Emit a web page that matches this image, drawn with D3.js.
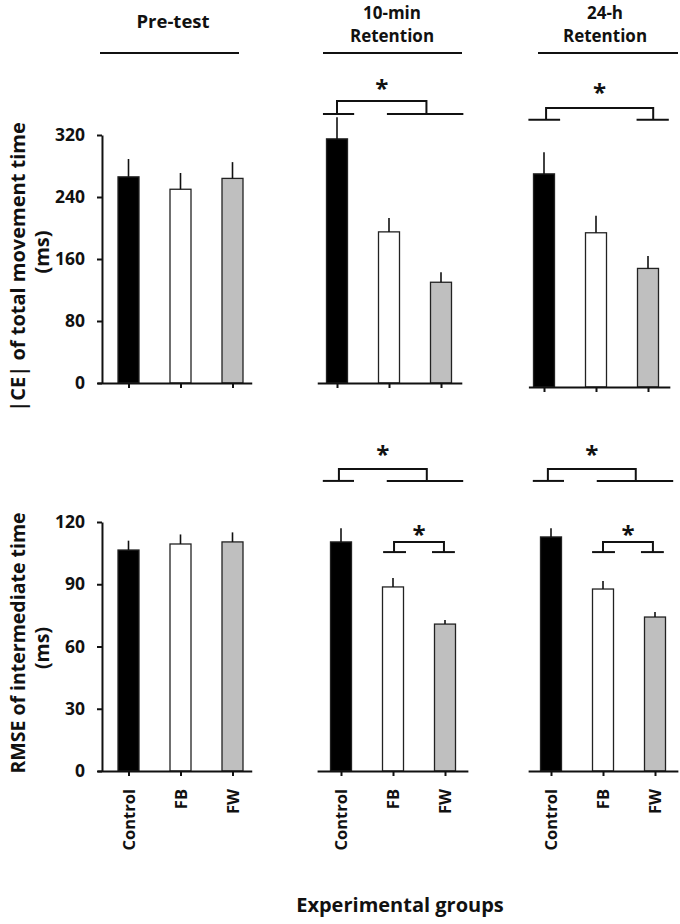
<!DOCTYPE html>
<html>
<head>
<script src="https://d3js.org/d3.v7.min.js"></script>
<style>
    body { margin: 0; background: #fff; }
    text { font-family: "Open Sans", Lato, sans-serif; font-weight: 700; fill: #111; }
    .axis path, .axis line { stroke: #111; stroke-width: 2px; }
</style>
</head>
<body>
<svg id="chart" width="680" height="924"></svg>
<script>
    // data
    const groups = ["Control", "FB", "FW"];
    const sessions = [["Pre-test"], ["10-min", "Retention"], ["24-h", "Retention"]];
    const ceMean = [[266, 250, 264], [315, 195, 130], [275, 199, 153]];
    const ceErr = [[23, 21, 21], [28, 18, 13], [28, 22, 16]];
    const rmseMean = [[106.5, 109.4, 110.4], [110.4, 88.7, 70.8], [112.8, 87.7, 74.2]];
    const rmseErr = [[4.5, 4.6, 4.6], [6.6, 4.3, 2.0], [4.2, 3.9, 2.4]];
    const ceTicks = [0, 80, 160, 240, 320];
    const rmseTicks = [0, 30, 60, 90, 120];

    const fills = ["#000", "#fff", "#bfbfbf"];
    const step = 52, barW = 21;
    const svg = d3.select("#chart");

    // layout for the two rows
    const rows = [
        { mean: ceMean, err: ceErr, ticks: ceTicks, max: 320, y0: 383, y1: 135, dy: [0, 0, 4],
          x0: [128.5, 337, 544], ext: [[-0.6, 2.37], [-0.38, 2.4], [-0.3, 2.42]],
          label: "|CE| of total movement time", labelSize: 20, labelY: 267, unitY: 252, xlabels: false },
        { mean: rmseMean, err: rmseErr, ticks: rmseTicks, max: 120, y0: 771, y1: 522, dy: [0, 0, 0],
          x0: [128.5, 341, 551], ext: [[-0.6, 2.37], [-0.46, 2.44], [-0.44, 2.44]],
          label: "RMSE of intermediate time", labelSize: 19.5, labelY: 643, unitY: 648, xlabels: true }
    ];

    // significance brackets (positions in group index / data units)
    const brackets = [
        { row: 0, p: 1, arms: [0, 1.72], lines: [[-0.27, 0.33], [0.96, 2.43]], base: 347, top: 364, star: 385 },
        { row: 0, p: 2, arms: [0.04, 2.1], lines: [[-0.3, 0.31], [1.78, 2.4]], base: 345, top: 360, star: 385 },
        { row: 1, p: 1, arms: [-0.04, 1.65], lines: [[-0.35, 0.25], [0.88, 2.35]], base: 139.8, top: 145.5, star: 154 },
        { row: 1, p: 2, arms: [-0.06, 1.63], lines: [[-0.35, 0.25], [0.88, 2.35]], base: 139.8, top: 145.5, star: 154 },
        { row: 1, p: 1, arms: [1.02, 1.98], lines: [[0.81, 1.25], [1.75, 2.19]], base: 105.5, top: 110.4, star: 115.7 },
        { row: 1, p: 2, arms: [1.0, 1.96], lines: [[0.79, 1.23], [1.73, 2.17]], base: 105.5, top: 110.4, star: 115.7 }
    ];

    const scales = {};

    rows.forEach((r, ri) => {
        [0, 1, 2].forEach(p => {
            const x = d3.scaleLinear().domain(r.ext[p])
                .range(r.ext[p].map(v => r.x0[p] + v * step));
            const y = d3.scaleLinear().domain([0, r.max]).range([r.y0 + r.dy[p], r.y1 + r.dy[p]]);
            scales[ri + "_" + p] = { x, y };
            const g = svg.append("g");

            // bars
            g.selectAll("rect").data(r.mean[p]).enter().append("rect")
                .attr("x", (d, i) => x(i) - barW / 2)
                .attr("y", d => y(d))
                .attr("width", barW)
                .attr("height", d => y(0) - y(d))
                .attr("fill", (d, i) => fills[i])
                .attr("stroke", "#222")
                .attr("stroke-width", 1.3);

            // error bars (upper only)
            g.selectAll("line.err").data(r.mean[p]).enter().append("line")
                .attr("class", "err")
                .attr("x1", (d, i) => x(i)).attr("x2", (d, i) => x(i))
                .attr("y1", d => y(d))
                .attr("y2", (d, i) => y(d + r.err[p][i]))
                .attr("stroke", "#111").attr("stroke-width", 1.6);

            // x axis
            const xa = g.append("g").attr("class", "axis")
                .attr("transform", `translate(0,${y(0)})`)
                .call(d3.axisBottom(x).tickValues([0, 1, 2]).tickSizeInner(5).tickSizeOuter(0)
                    .tickFormat(i => r.xlabels ? groups[i] : ""));
            xa.selectAll("text")
                .attr("font-size", 16.5)
                .attr("transform", "rotate(-90)")
                .attr("text-anchor", "end")
                .attr("x", -18).attr("y", 0).attr("dy", "0.35em");

            // y axis only on the first panel
            if (p === 0) {
                const ya = g.append("g").attr("class", "axis")
                    .attr("transform", `translate(${x(-0.51)},0)`)
                    .call(d3.axisLeft(y).tickValues(r.ticks).tickSize(5).tickSizeOuter(0).tickPadding(12));
                ya.selectAll("text").attr("font-size", 17.5);
            }
        });

        // y axis title
        svg.append("text")
            .attr("transform", `translate(25,${r.labelY}) rotate(-90)`)
            .attr("text-anchor", "middle")
            .attr("font-size", r.labelSize)
            .text(r.label);
        svg.append("text")
            .attr("transform", `translate(49,${r.unitY}) rotate(-90)`)
            .attr("text-anchor", "middle")
            .attr("font-size", r.labelSize)
            .text("(ms)");
    });

    // session headers
    const headerCenters = [173, 392, 605];
    const headerLines = [[100, 239], [323, 462], [538, 678]];
    sessions.forEach((s, i) => {
        const baselines = s.length === 1 ? [28] : [18.5, 41.5];
        s.forEach((line, j) => {
            svg.append("text")
                .attr("x", headerCenters[i]).attr("y", baselines[j])
                .attr("text-anchor", "middle")
                .attr("font-size", s.length === 1 ? 18.5 : 17)
                .text(line);
        });
        svg.append("line")
            .attr("x1", headerLines[i][0]).attr("x2", headerLines[i][1])
            .attr("y1", 53).attr("y2", 53)
            .attr("stroke", "#111").attr("stroke-width", 2);
    });

    // brackets
    brackets.forEach(b => {
        const { x, y } = scales[b.row + "_" + b.p];
        const g = svg.append("g").attr("fill", "none").attr("stroke", "#111").attr("stroke-width", 2);
        b.lines.forEach(l => {
            g.append("line").attr("x1", x(l[0])).attr("x2", x(l[1]))
                .attr("y1", y(b.base)).attr("y2", y(b.base));
        });
        g.append("path")
            .attr("d", `M${x(b.arms[0])},${y(b.base)}V${y(b.top)}H${x(b.arms[1])}V${y(b.base)}`);
        svg.append("text")
            .attr("x", (x(b.arms[0]) + x(b.arms[1])) / 2)
            .attr("y", y(b.star) + 12)
            .attr("text-anchor", "middle")
            .attr("font-size", 24)
            .attr("font-weight", 400)
            .text("*");
    });

    // x axis title
    svg.append("text")
        .attr("x", 400).attr("y", 912)
        .attr("text-anchor", "middle")
        .attr("font-size", 20)
        .text("Experimental groups");
</script>
</body>
</html>
